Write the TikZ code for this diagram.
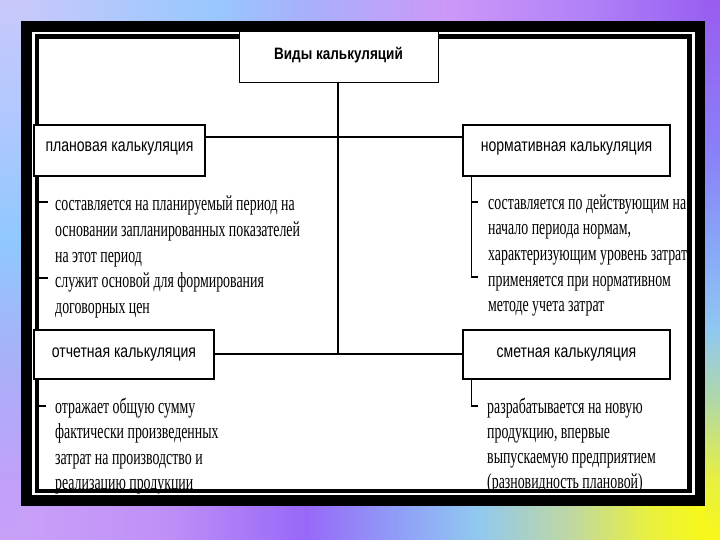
\documentclass[tikz,border=0pt]{standalone}
\usepackage{fontspec}
\setmainfont{Liberation Serif}
\newfontfamily\descfont[FakeStretch=0.645]{Liberation Serif}
\newfontfamily\labfont[FakeStretch=0.78]{Liberation Sans}
\newfontfamily\titfont[FakeStretch=0.82]{Liberation Sans}
\definecolor{tA}{HTML}{C8C8FA}\definecolor{tB}{HTML}{98C8FF}\definecolor{tC}{HTML}{A8B0FA}
\definecolor{tD}{HTML}{CC98F8}\definecolor{tE}{HTML}{B080F8}\definecolor{tF}{HTML}{9860F0}
\definecolor{bA}{HTML}{C8A0F8}\definecolor{bB}{HTML}{C090F8}\definecolor{bC}{HTML}{9868F8}
\definecolor{bD}{HTML}{90A0F8}\definecolor{bE}{HTML}{90C8F0}\definecolor{bF}{HTML}{C0D8A0}
\definecolor{bG}{HTML}{E8F040}\definecolor{bH}{HTML}{F8F818}
\definecolor{lA}{HTML}{C0A0F8}\definecolor{lB}{HTML}{A8B0F8}\definecolor{lC}{HTML}{90C8FF}
\definecolor{lD}{HTML}{B0C8FF}
\definecolor{rA}{HTML}{B0D8A8}\definecolor{rB}{HTML}{88A8F8}\definecolor{rC}{HTML}{8A80F8}
\definecolor{rD}{HTML}{9A5CF0}
\pgfdeclarehorizontalshading{topbg}{100bp}{color(0bp)=(tA); color(25bp)=(tA); color(38.9bp)=(tB); color(45.8bp)=(tC); color(56.25bp)=(tD); color(66.7bp)=(tE); color(75bp)=(tF); color(100bp)=(tF)}
\pgfdeclarehorizontalshading{botbg}{100bp}{color(0bp)=(bA); color(25bp)=(bA); color(35.4bp)=(bB); color(45.8bp)=(bC); color(52.8bp)=(bD); color(58.3bp)=(bE); color(65.3bp)=(bF); color(70.8bp)=(bG); color(75bp)=(bH); color(100bp)=(bH)}
\pgfdeclareverticalshading{leftbg}{100bp}{color(0bp)=(bA); color(25bp)=(bA); color(30.6bp)=(lA); color(41.7bp)=(lB); color(52.8bp)=(lC); color(63.9bp)=(lD); color(75bp)=(tA); color(100bp)=(tA)}
\pgfdeclareverticalshading{rightbg}{100bp}{color(0bp)=(bH); color(25bp)=(bH); color(30.6bp)=(bG); color(38bp)=(rA); color(44.4bp)=(bE); color(51.9bp)=(rB); color(61.1bp)=(rC); color(75bp)=(rD); color(100bp)=(rD)}
\begin{document}
\begin{tikzpicture}[x=1pt,y=-1pt,
  catbox/.style={draw, line width=2.4pt, fill=white, inner sep=0pt, text height=9pt, text depth=6pt,
     font=\labfont\fontsize{18}{20}\selectfont},
  lowbox/.style={catbox, text height=9pt, text depth=3pt},
  titlebox/.style={draw, line width=1pt, fill=white, inner sep=0pt, text height=10pt, text depth=6pt,
     font=\titfont\bfseries\fontsize{16.5}{18}\selectfont},
  desc/.style={font=\descfont\fontsize{21.5}{25}\selectfont, inner sep=0pt, anchor=base west},
  conn/.style={line width=2pt},
  thinline/.style={line width=1.2pt},
  tick/.style={line width=1.8pt}]
\useasboundingbox (0,0) rectangle (720,540);
% background
\shade[shading=topbg] (0,0) rectangle (720,21);
\shade[shading=botbg] (0,506) rectangle (720,540);
\shade[shading=leftbg] (0,0) rectangle (21,540);
\shade[shading=rightbg] (705,0) rectangle (720,540);
\shade[shading=topbg] (21,0) rectangle (705,21);
\shade[shading=botbg] (21,506) rectangle (705,540);
% frame
\fill[black] (21,21) rectangle (705,506);
\fill[white] (32,32) rectangle (695,495);
% descriptions
\begin{scope}
\clip (32,32) rectangle (695,494);
\foreach \t [count=\i] in {составляется на планируемый период на, основании запланированных показателей, на этот период, служит основой для формирования, договорных цен}
  \node[desc] (pl\i) at (55,{211+(\i-1)*25.5}) {\t};
\foreach \t [count=\i] in {составляется по действующим на, {начало периода нормам,}, характеризующим уровень затрат, применяется при нормативном, методе учета затрат}
  \node[desc] (nr\i) at (488,{209.5+(\i-1)*25.5}) {\t};
\foreach \t [count=\i] in {отражает общую сумму, фактически произведенных, затрат на производство и, реализацию продукции}
  \node[desc] (ot\i) at (55,{413+(\i-1)*25.5}) {\t};
\foreach \t [count=\i] in {разрабатывается на новую, {продукцию, впервые}, выпускаемую предприятием, (разновидность плановой)}
  \node[desc] (sm\i) at (487,{413+(\i-1)*25.3}) {\t};
\end{scope}
\draw[line width=4.5pt] (36.75,36.75) rectangle (689.5,491);
% boxes
\node[titlebox, minimum width=199pt, minimum height=51pt] (title) at (338.5,57.5) {Виды калькуляций};
\node[catbox, minimum width=171pt, minimum height=51pt] (plan) at (119.5,150.5) {плановая калькуляция};
\node[catbox, minimum width=207pt, minimum height=51pt] (norm) at (566.5,150.5) {нормативная калькуляция};
\node[lowbox, minimum width=180pt, minimum height=49pt] (otch) at (124,354.5) {отчетная калькуляция};
\node[lowbox, minimum width=207pt, minimum height=49pt] (smet) at (566.5,354.5) {сметная калькуляция};
% connectors
\coordinate (hc1) at (338,137);
\coordinate (hc2) at (338,354);
\draw[thinline] (title.south -| hc1) -- (hc2);
\draw[conn] (plan.east |- hc1) -- (norm.west |- hc1);
\draw[conn] (otch.east |- hc2) -- (smet.west |- hc2);
\coordinate (nb1) at (471.5,202); \coordinate (nt1) at (478,202);
\coordinate (nb2) at (471.5,277); \coordinate (nt2) at (478,277);
\draw[thinline] (norm.south -| nb1) -- (nb2);
\draw[tick] (nb1) -- (nt1);
\draw[tick] ([xshift=-0.6pt]nb2) -- (nt2);
\coordinate (sb1) at (471.5,406); \coordinate (st1) at (478,406);
\draw[thinline] (smet.south -| sb1) -- (sb1);
\draw[tick] ([xshift=-0.6pt]sb1) -- (st1);
\coordinate (lb1) at (39,202); \coordinate (lt1) at (48,202);
\coordinate (lb2) at (39,278); \coordinate (lt2) at (48,278);
\coordinate (lb3) at (39,406); \coordinate (lt3) at (46,406);
\draw[tick] (lb1) -- (lt1);
\draw[tick] (lb2) -- (lt2);
\draw[tick] (lb3) -- (lt3);
\end{tikzpicture}
\end{document}
